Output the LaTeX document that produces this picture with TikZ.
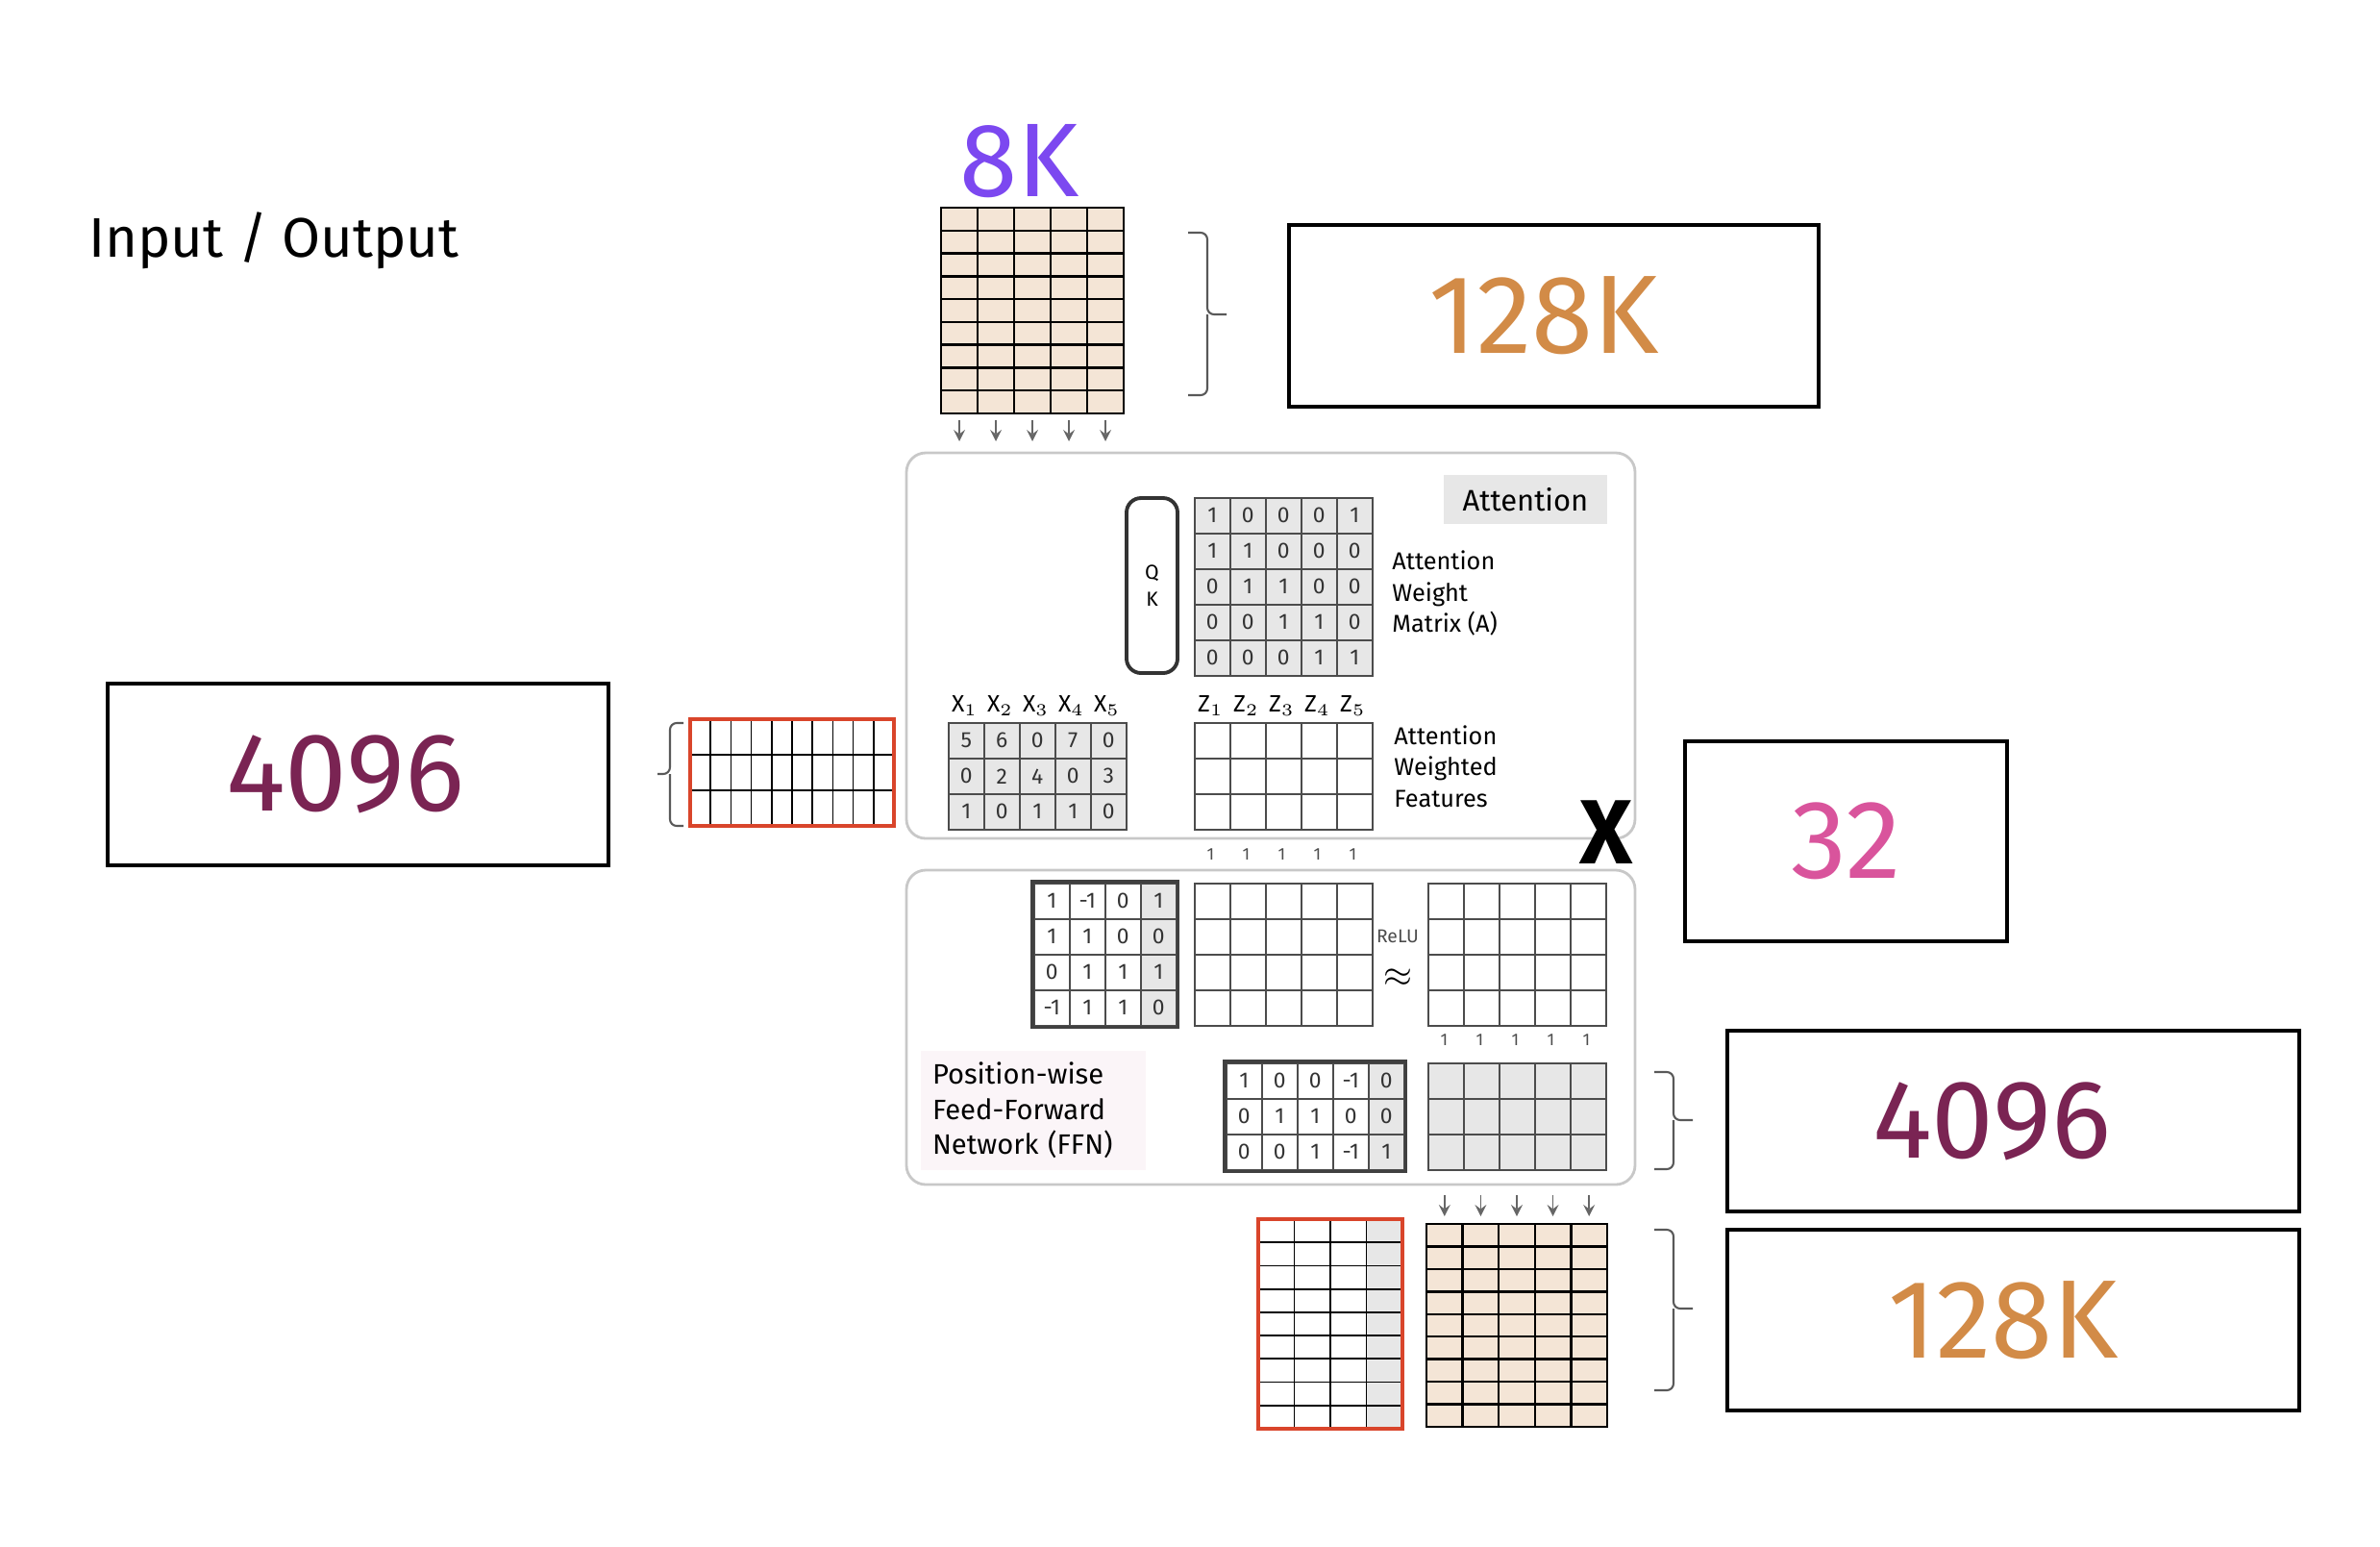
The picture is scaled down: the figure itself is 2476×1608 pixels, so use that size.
\documentclass[tikz,border=0pt]{standalone}
\usepackage{fontspec}
\setmainfont{Fira Sans}
\usetikzlibrary{positioning,matrix}

\definecolor{tokbeige}{RGB}{244,229,214}
\definecolor{embred}{RGB}{217,69,43}
\definecolor{cellgray}{RGB}{231,231,231}
\definecolor{num128}{RGB}{210,139,71}
\definecolor{num4096}{RGB}{122,36,83}
\definecolor{num32}{RGB}{217,84,156}
\definecolor{num8k}{RGB}{124,72,240}
\definecolor{panelline}{RGB}{200,200,200}
\definecolor{ffnpink}{RGB}{251,245,248}

\begin{document}
\begin{tikzpicture}[x=0.1mm, y=-0.1mm,
    sizebox/.style={draw=black, line width=0.9pt, inner sep=0pt},
    bignum/.style={font=\fontsize{33}{38}\selectfont},
    panel/.style={draw=panelline, line width=0.8pt, rounded corners=2mm, inner sep=0pt},
    gridline/.style={draw=black, line width=0.7pt},
    flow/.style={->, >=stealth, draw=black!60, line width=0.5pt},
    sizebrace/.style={draw=black!65, line width=0.6pt, rounded corners=0.7mm},
    mat/.style={matrix of nodes, nodes in empty cells, inner sep=0pt, anchor=north west,
      column sep=-0.6pt, row sep=-0.6pt,
      nodes={draw=black!70, line width=0.6pt, minimum size=3.7mm, inner sep=0pt,
        anchor=center, text=black!80, font=\fontsize{6.5}{7}\selectfont}},
    notelbl/.style={font=\fontsize{7.2}{9.2}\selectfont, align=left, anchor=west},
    onelbl/.style={font=\fontsize{5}{6}\selectfont, text=black!70}]

\useasboundingbox (0,0) rectangle (2476,1608);

% input side
\node[anchor=west, font=\fontsize{16.5}{18}\selectfont] (io) at (80,250) {Input / Output};
\node[font=\fontsize{31}{36}\selectfont, text=num8k] (ctx) at (1061,168) {8K};

\node[draw=black, line width=0.8pt, fill=tokbeige, minimum width=1.9cm, minimum height=2.14cm, inner sep=0pt, outer sep=0pt] (tokin) at (1074,323) {};
\foreach \i in {1,...,4}
  \draw[gridline] (tokin.north west) ++(38*\i,0) -- ++(0,214);
\foreach \j in {1,...,8}
  \draw[gridline] (tokin.north west) ++(0,214*\j/9) -- ++(190,0);
\foreach \i in {0,...,4}
  \draw[flow] (tokin.south west) ++(19+38*\i,7) -- ++(0,22);

\draw[sizebrace] (1236,242) -| (1256,327) -- (1276,327) (1256,327) |- (1236,411);
\node[sizebox, minimum width=5.51cm, minimum height=1.89cm] (ctxtop) at (1616.5,328.5) {};
\node[bignum, text=num128] (ctxtoptxt) at (1606,328.5) {128K};

% embedding
\node[sizebox, minimum width=5.21cm, minimum height=1.89cm] (hidin) at (372.5,805.5) {};
\node[bignum, text=num4096] (hidintxt) at (359,805.5) {4096};
\draw[sizebrace] (711,752) -| (697,805) -- (684,805) (697,805) |- (711,859);
\node[minimum width=2.12cm, minimum height=1.11cm, inner sep=0pt, outer sep=0pt] (embin) at (824,803.5) {};
\foreach \i in {1,...,9}
  \draw[gridline, line width=0.5pt] (embin.north west) ++(21.2*\i,0) -- ++(0,111);
\foreach \j in {1,2}
  \draw[gridline, line width=0.5pt] (embin.north west) ++(0,37*\j) -- ++(212,0);
\draw[embred, line width=1.3pt] (embin.north west) rectangle (embin.south east);

% attention block
\node[panel, minimum width=7.58cm, minimum height=4.01cm] (attn) at (1322,671.5) {};
\node[fill=cellgray, minimum width=1.7cm, minimum height=0.51cm, font=\fontsize{8.8}{10}\selectfont] (attnlbl) at (1587,519.5) {Attention};
\node[draw=black!80, line width=1.1pt, rounded corners=1.5mm, minimum width=0.53cm, minimum height=1.82cm, inner sep=0pt, align=center, font=\fontsize{6}{8.2}\selectfont] (qk) at (1198.5,609) {Q\\K};
\matrix (attw) [mat, nodes={fill=cellgray}] at (1241,516) {
  1 & 0 & 0 & 0 & 1 \\
  1 & 1 & 0 & 0 & 0 \\
  0 & 1 & 1 & 0 & 0 \\
  0 & 0 & 1 & 1 & 0 \\
  0 & 0 & 0 & 1 & 1 \\
};
\node[notelbl] (attwlbl) at (1436,617) {Attention\\Weight\\Matrix (A)};

\foreach \n in {1,...,5} {
  \node[font=\fontsize{7}{8}\selectfont] (xl\n) at (966.5+37*\n,734) {X$_{\n}$};
  \node[font=\fontsize{7}{8}\selectfont] (zl\n) at (1222.5+37*\n,734) {Z$_{\n}$};
  \node[onelbl] (zo\n) at (1222.5+37*\n,889) {1};
}
\matrix (xmat) [mat, nodes={fill=cellgray}] at (985,750) {
  5 & 6 & 0 & 7 & 0 \\
  0 & 2 & 4 & 0 & 3 \\
  1 & 0 & 1 & 1 & 0 \\
};
\matrix (zmat) [mat] at (1241,750) {
  & & & & \\
  & & & & \\
  & & & & \\
};
\node[notelbl] (zmatlbl) at (1438,797) {Attention\\Weighted\\Features};
\node[font=\fontsize{27}{30}\selectfont\bfseries] (times) at (1671,866) {X};

\node[sizebox, minimum width=3.35cm, minimum height=2.08cm, font=\fontsize{33}{38}\selectfont, text=num32] (heads) at (1920.5,875) {32};

% feed-forward block
\node[panel, minimum width=7.58cm, minimum height=3.27cm] (ffn) at (1322,1068.5) {};
\matrix (w1) [mat, column 4/.style={nodes={fill=cellgray}}] at (1074,917) {
  1 & -1 & 0 & 1 \\
  1 & 1 & 0 & 0 \\
  0 & 1 & 1 & 1 \\
  -1 & 1 & 1 & 0 \\
};
\draw[black!75, line width=1pt] (w1.north west) rectangle (w1.south east);
\matrix (hmat) [mat] at (1241,917) {
  & & & & \\
  & & & & \\
  & & & & \\
  & & & & \\
};
\node[onelbl, font=\fontsize{5.5}{6}\selectfont] (relu) at (1454,974) {ReLU};
\node[font=\fontsize{11}{12}\selectfont, below=0.2mm of relu] (approx) {$\approx$};
\matrix (rmat) [mat] at (1484,917) {
  & & & & \\
  & & & & \\
  & & & & \\
  & & & & \\
};
\foreach \n in {1,...,5}
  \node[onelbl] (ro\n) at (1465.5+37*\n,1082) {1};

\node[fill=ffnpink, minimum width=2.34cm, minimum height=1.22cm, text width=2.1cm, align=left, font=\fontsize{8.3}{10.4}\selectfont] (ffnlbl) at (1075,1155) {Position-wise\\Feed-Forward\\Network (FFN)};
\matrix (w2) [mat, column 5/.style={nodes={fill=cellgray}}] at (1274,1104) {
  1 & 0 & 0 & -1 & 0 \\
  0 & 1 & 1 & 0 & 0 \\
  0 & 0 & 1 & -1 & 1 \\
};
\draw[black!75, line width=1pt] (w2.north west) rectangle (w2.south east);
\matrix (omat) [mat, nodes={fill=cellgray}] at (1484,1104) {
  & & & & \\
  & & & & \\
  & & & & \\
};

\draw[sizebrace] (1721,1115) -| (1741,1165) -- (1761,1165) (1741,1165) |- (1721,1216);
\node[sizebox, minimum width=5.95cm, minimum height=1.88cm] (hidout) at (2094.5,1166) {};
\node[bignum, text=num4096] (hidouttxt) at (2072,1166) {4096};

% output side
\node[minimum width=1.5cm, minimum height=2.18cm, inner sep=0pt, outer sep=0pt] (embout) at (1384,1377) {};
\fill[cellgray] (embout.north east) rectangle ++(-37.5,218);
\foreach \i in {1,2,3}
  \draw[gridline, line width=0.5pt] (embout.north west) ++(37.5*\i,0) -- ++(0,218);
\foreach \j in {1,...,8}
  \draw[gridline, line width=0.5pt] (embout.north west) ++(0,218*\j/9) -- ++(150,0);
\draw[embred, line width=1.4pt] (embout.north west) rectangle (embout.south east);

\node[draw=black, line width=0.8pt, fill=tokbeige, minimum width=1.88cm, minimum height=2.11cm, inner sep=0pt, outer sep=0pt] (tokout) at (1578,1378.5) {};
\foreach \i in {1,...,4}
  \draw[gridline] (tokout.north west) ++(37.6*\i,0) -- ++(0,211);
\foreach \j in {1,...,8}
  \draw[gridline] (tokout.north west) ++(0,211*\j/9) -- ++(188,0);
\foreach \i in {0,...,4}
  \draw[flow] (tokout.north west) ++(18.8+37.6*\i,-30) -- ++(0,22);

\draw[sizebrace] (1721,1279) -| (1741,1361) -- (1761,1361) (1741,1361) |- (1721,1446);
\node[sizebox, minimum width=5.95cm, minimum height=1.88cm] (ctxbot) at (2094.5,1373) {};
\node[bignum, text=num128] (ctxbottxt) at (2084,1373) {128K};

\end{tikzpicture}
\end{document}
